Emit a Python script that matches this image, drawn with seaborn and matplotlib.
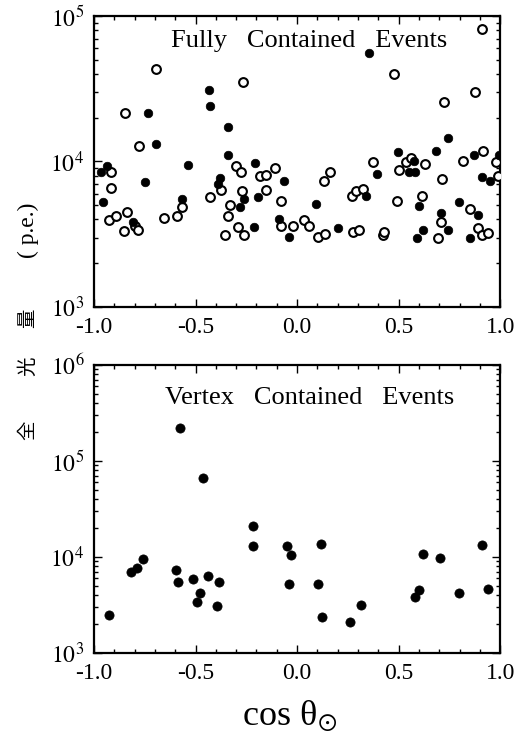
import numpy as np
import pandas as pd
import matplotlib
matplotlib.use("Agg")
import matplotlib.pyplot as plt
import seaborn as sns
from matplotlib.ticker import FixedLocator, LogLocator, NullFormatter, MultipleLocator

# ---------------- data ----------------
# Fully contained events: filled circles
fc_filled_cos = [-0.964, -0.936, -0.954, -0.736, -0.697, -0.748, -0.807, -0.538, -0.566,
                 -0.434, -0.430, -0.338, -0.338, -0.382, -0.390, -0.280, -0.262, -0.208,
                 -0.193, -0.210, -0.090, -0.066, -0.038, 0.092, 0.200, 0.339, 0.356,
                 0.393, 0.495, 0.552, 0.580, 0.574, 0.602, 0.593, 0.621, 0.685, 0.743,
                 0.707, 0.743, 0.797, 0.872, 0.913, 0.951, 0.890, 0.851, 0.995]
fc_filled_pe = [8500, 9250, 5240, 21700, 13100, 7250, 3810, 9400, 5500,
                31200, 23900, 17200, 11000, 7690, 7030, 4860, 5500, 9750,
                5690, 3540, 4020, 7300, 3050, 5090, 3470, 5750, 55400,
                8190, 11540, 8400, 8400, 10100, 4970, 3000, 3400, 11800, 14600,
                4420, 3400, 5290, 11100, 7790, 7300, 4260, 3000, 11100]
# Fully contained events: open circles
fc_open_cos = [-0.916, -0.915, -0.926, -0.890, -0.846, -0.854, -0.838, -0.780, -0.800,
               -0.784, -0.693, -0.657, -0.592, -0.566, -0.431, -0.374, -0.339, -0.356,
               -0.330, -0.264, -0.300, -0.274, -0.272, -0.293, -0.262, -0.182, -0.152,
               -0.152, -0.108, -0.079, -0.079, -0.018, 0.034, 0.057, 0.102, 0.138,
               0.134, 0.164, 0.270, 0.290, 0.323, 0.274, 0.303, 0.375, 0.421, 0.430,
               0.479, 0.503, 0.492, 0.536, 0.561, 0.631, 0.615, 0.695, 0.711, 0.716,
               0.725, 0.815, 0.852, 0.874, 0.916, 0.910, 0.889, 0.913, 0.941, 0.982, 0.990]
fc_open_pe = [8400, 6560, 3970, 4240, 21700, 3340, 4510, 12680, 3580,
              3400, 43300, 4080, 4190, 4860, 5690, 6380, 4240, 3140,
              5050, 35100, 9250, 8400, 6230, 3540, 3140, 7890, 8090,
              6380, 8960, 5350, 3580, 3580, 3970, 3580, 3050, 3170,
              7300, 8450, 5750, 6300, 6490, 3270, 3400, 9840, 3120, 3290,
              40000, 8770, 5310, 9840, 10540, 9590, 5750, 3000, 3840, 7570,
              25800, 10150, 4710, 29800, 11840, 80900, 3490, 3120, 3220, 9840, 7890]
# Vertex contained events
vc_cos = [-0.926, -0.816, -0.786, -0.758, -0.594, -0.586, -0.579, -0.514, -0.479, -0.495,
          -0.464, -0.441, -0.395, -0.385, -0.219, -0.219, -0.052, -0.030, -0.042, 0.103,
          0.116, 0.122, 0.259, 0.315, 0.581, 0.602, 0.620, 0.706, 0.796, 0.911, 0.941]
vc_pe = [2500, 6980, 7620, 9460, 7330, 5540, 222000, 5860, 4270, 3410,
         66100, 6350, 3100, 5540, 21300, 13100, 13100, 10500, 5200, 5200,
         13700, 2400, 2110, 3170, 3870, 4510, 10700, 9770, 4220, 13200, 4610]

x_ticks = [-1.0, -0.5, 0.0, 0.5, 1.0]
x_ticklabels = ["-1.0", "-0.5", "0.0", "0.5", "1.0"]
top_titles = "Fully   Contained   Events"
bot_titles = "Vertex   Contained   Events"

# ---------------- style ----------------
sns.set_theme(style="ticks")
plt.rcParams["font.family"] = ["Liberation Serif", "DejaVu Serif"]
plt.rcParams["mathtext.fontset"] = "stix"

fig = plt.figure(figsize=(5.18, 7.5), dpi=100)
ax1 = fig.add_axes([0.1815, 0.5907, 0.784, 0.388])
ax2 = fig.add_axes([0.1815, 0.1293, 0.784, 0.384])

df_f = pd.DataFrame({"cos": fc_filled_cos, "pe": fc_filled_pe})
df_o = pd.DataFrame({"cos": fc_open_cos, "pe": fc_open_pe})
df_v = pd.DataFrame({"cos": vc_cos, "pe": vc_pe})

sns.scatterplot(data=df_o, x="cos", y="pe", ax=ax1, marker="o", s=40,
                facecolor="white", edgecolor="black", linewidth=1.5, zorder=3)
sns.scatterplot(data=df_f, x="cos", y="pe", ax=ax1, marker="o", s=38,
                color="black", edgecolor="black", linewidth=0.5, zorder=4)
sns.scatterplot(data=df_v, x="cos", y="pe", ax=ax2, marker="o", s=44,
                color="black", edgecolor="black", linewidth=0.5, zorder=4)

def style_axis(ax, ymax_exp, title, ty):
    ax.set_yscale("log")
    ax.set_xlim(-1.0, 1.0)
    ax.set_ylim(1e3, 10 ** ymax_exp)
    ax.set_xticks(x_ticks)
    ax.set_xticklabels(x_ticklabels)
    ax.xaxis.set_minor_locator(MultipleLocator(0.1))
    exps = list(range(3, ymax_exp + 1))
    ax.yaxis.set_major_locator(FixedLocator([10 ** e for e in exps]))
    ax.set_yticklabels([r"$10^{%d}$" % e for e in exps])
    ax.yaxis.set_minor_locator(LogLocator(base=10, subs=np.arange(2, 10)))
    ax.yaxis.set_minor_formatter(NullFormatter())
    ax.tick_params(which="both", direction="in", top=True, right=True,
                   colors="black", width=1.0)
    ax.tick_params(which="major", length=6, labelsize=17, pad=7)
    ax.tick_params(which="minor", length=3)
    for s in ax.spines.values():
        s.set_linewidth(1.6)
        s.set_color("black")
    ax.set_xlabel("")
    ax.set_ylabel("")
    ax.text(0.53, ty, title, transform=ax.transAxes, ha="center", va="center",
            fontsize=19, color="black")

style_axis(ax1, 5, top_titles, 0.915)
style_axis(ax2, 6, bot_titles, 0.885)

# y label (vertical, Japanese)
cjk = ["Noto Sans CJK JP", "DejaVu Sans"]
for ch, yp in [("全", 430), ("光", 366), ("量", 318)]:
    fig.text(28 / 518, 1 - yp / 750, ch, rotation=90, ha="center", va="center",
             fontsize=14, family=cjk, color="black")
fig.text(28 / 518, 1 - 230 / 750, "( p.e.)", rotation=90, ha="center", va="center",
         fontsize=17, color="black")

fig.text(290 / 518, 1 - 716 / 750, r"cos θ$_{\odot}$", ha="center", va="center",
         fontsize=26, color="black")

fig.savefig("out.png", dpi=100, facecolor="white")
